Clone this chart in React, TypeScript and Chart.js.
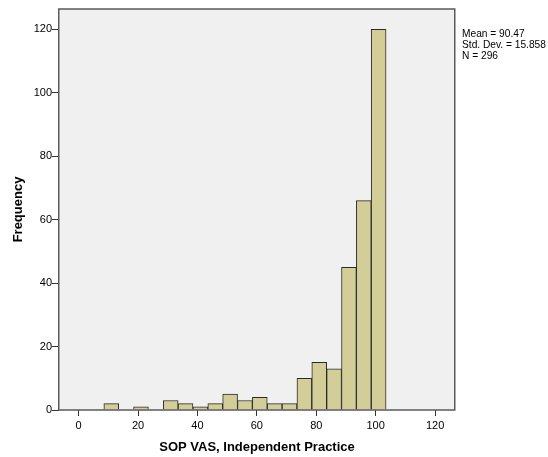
import React, { useEffect, useRef } from "react";
import { Chart, registerables } from "chart.js";

Chart.register(...registerables);

// Histogram bins (centres, width 5) and frequencies
const binCenters = [11, 16, 21, 26, 31, 36, 41, 46, 51, 56, 61, 66, 71, 76, 81, 86, 91, 96, 101];
const frequencies = [2, 0, 1, 0, 3, 2, 1, 2, 5, 3, 4, 2, 2, 10, 15, 13, 45, 66, 120];
const xTicks = [0, 20, 40, 60, 80, 100, 120];
const yTicks = [0, 20, 40, 60, 80, 100, 120];
const statLines = ["Mean = 90.47", "Std. Dev. = 15.858", "N = 296"];

const FONT = "Arial, 'Liberation Sans', sans-serif";

export default function App() {
  const ref = useRef<HTMLCanvasElement | null>(null);

  useEffect(() => {
    document.body.style.margin = "0";
    const canvas = ref.current;
    if (!canvas) return;

    const framePlugin = {
      id: "frame",
      beforeDraw(chart: any) {
        const { ctx, chartArea: a } = chart;
        ctx.save();
        ctx.fillStyle = "#f0f0f0";
        ctx.fillRect(a.left, a.top, a.right - a.left, a.bottom - a.top);
        ctx.restore();
      },
      afterDraw(chart: any) {
        const { ctx, chartArea: a } = chart;
        ctx.save();
        ctx.strokeStyle = "#5a5a5a";
        ctx.lineWidth = 1.5;
        ctx.strokeRect(Math.round(a.left) - 0.25, Math.round(a.top), Math.round(a.right - a.left), Math.round(a.bottom - a.top));
        ctx.fillStyle = "#000";
        ctx.font = `10.2px ${FONT}`;
        ctx.textBaseline = "alphabetic";
        ctx.textAlign = "left";
        statLines.forEach((t, i) => ctx.fillText(t, a.right + 7, 37 + i * 11.2));
        ctx.restore();
      },
    };

    const data = binCenters
      .map((x, i) => ({ x, y: frequencies[i] }))
      .filter((p) => p.y > 0);

    const chart = new Chart(canvas, {
      type: "bar",
      data: {
        datasets: [
          {
            data,
            backgroundColor: "#d3ce97",
            borderColor: "#2a2a2a",
            borderWidth: 1,
            barPercentage: 1,
            categoryPercentage: 1,
          } as any,
        ],
      },
      options: {
        responsive: false,
        animation: false,
        layout: { padding: { top: 9, right: 93, left: 0, bottom: 0 } },
        plugins: { legend: { display: false }, tooltip: { enabled: false } },
        scales: {
          x: {
            type: "linear",
            offset: false,
            min: -6.6,
            max: 126.7,
            afterBuildTicks: (s: any) => {
              s.ticks = xTicks.map((v) => ({ value: v }));
            },
            afterFit: (s: any) => {
              s.height = 47;
            },
            border: { display: false },
            grid: { offset: false, drawOnChartArea: false, drawTicks: true, tickLength: 6, tickColor: "#333", lineWidth: 1 },
            ticks: { color: "#000", font: { family: FONT, size: 11 }, padding: 3, maxRotation: 0 },
            title: {
              display: true,
              text: "SOP VAS, Independent Practice",
              color: "#000",
              font: { family: FONT, size: 13, weight: "bold" },
              padding: { top: 0, bottom: 2 },
            },
          },
          y: {
            type: "linear",
            min: 0,
            max: 126.4,
            afterBuildTicks: (s: any) => {
              s.ticks = yTicks.map((v) => ({ value: v }));
            },
            afterFit: (s: any) => {
              s.width = 59;
            },
            border: { display: false },
            grid: { drawOnChartArea: false, drawTicks: true, tickLength: 7, tickColor: "#333", lineWidth: 1 },
            ticks: { color: "#000", font: { family: FONT, size: 11 }, padding: 0 },
            title: {
              display: true,
              text: "Frequency",
              color: "#000",
              font: { family: FONT, size: 13, weight: "bold" },
              padding: { top: 11, bottom: 0 },
            },
          },
        },
      },
      plugins: [framePlugin],
    });

    return () => chart.destroy();
  }, []);

  return <canvas ref={ref} width={548} height={457} style={{ display: "block" }} />;
}
